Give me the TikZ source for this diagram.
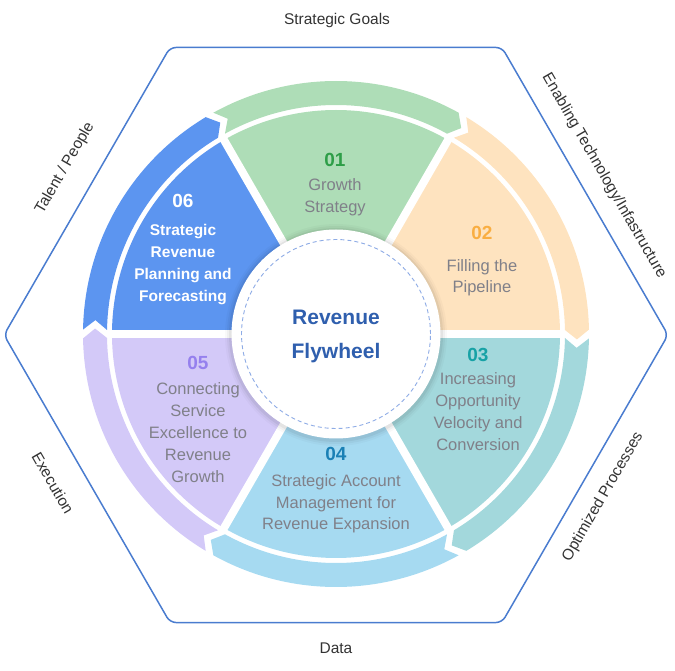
\documentclass[tikz,border=0pt]{standalone}
\usepackage{fontspec}
\setmainfont{Liberation Sans}
\usetikzlibrary{calc}
\definecolor{hexc}{HTML}{4A7CCF}
\definecolor{cA}{HTML}{AEDDB7}
\definecolor{cB}{HTML}{FEE3BF}
\definecolor{cC}{HTML}{A3D8DC}
\definecolor{cD}{HTML}{A6DAF1}
\definecolor{cE}{HTML}{D3C9F8}
\definecolor{cF}{HTML}{5C95F0}
\definecolor{nA}{HTML}{2E9E48}
\definecolor{nB}{HTML}{F9AE42}
\definecolor{nC}{HTML}{17A2A6}
\definecolor{nD}{HTML}{1A80B5}
\definecolor{nE}{HTML}{9580EE}
\definecolor{lblc}{HTML}{808089}
\definecolor{outc}{HTML}{333333}
\definecolor{hubc}{HTML}{2F5FAE}
\definecolor{dashc}{HTML}{8EACE6}
\tikzset{
  outlbl/.style={font=\fontsize{15.5}{18}\selectfont, text=outc, inner sep=0pt},
  numlbl/.style={font=\fontsize{19}{22}\selectfont\bfseries, anchor=base, inner sep=0pt},
  seclbl/.style={font=\fontsize{16.5}{22}\selectfont, text=lblc, anchor=base, inner sep=0pt},
  seclblw/.style={font=\fontsize{15.5}{22}\selectfont\bfseries, text=white, anchor=base, inner sep=0pt},
  hublbl/.style={font=\fontsize{21}{24}\selectfont\bfseries, text=hubc, anchor=base, inner sep=0pt},
}
\begin{document}
\begin{tikzpicture}[x=1pt,y=1pt]
\useasboundingbox (-336,-337) rectangle (339,334);
% hexagon frame
\draw[hexc, line width=1.5pt, rounded corners=6pt]
  ($(0:332)+(0,-1)$) -- ($(60:332)+(0,-1)$) -- ($(120:332)+(0,-1)$) -- ($(180:332)+(0,-1)$)
  -- ($(240:332)+(0,-1)$) -- ($(300:332)+(0,-1)$) -- cycle;
% sectors and arrow bands
\foreach \a/\c in {60/cA,0/cB,-60/cC,-120/cD,180/cE,120/cF} {
  \fill[\c] (0,0) -- (\a:224) arc[start angle=\a, end angle=\a+60, radius=224] -- cycle;
  \fill[\c] ({\a+59}:253) arc[start angle={\a+59}, end angle={\a+1}, radius=253]
     -- ({\a-1.3}:241) -- ({\a+1}:229)
     arc[start angle={\a+1}, end angle={\a+59}, radius=229]
     -- ({\a+56.7}:241) -- cycle;
}
\foreach \a in {0,60,...,300} \draw[white, line width=8pt] (0,0) -- (\a:226);
% hub
\foreach \r/\o in {111/0.025,109/0.035,107/0.05} \fill[black, opacity=\o] (0,-1) circle[radius=\r];
\node[circle, fill=white, minimum size=209pt, inner sep=0pt] (hub) at (0,0) {};
\draw[dashc, line width=0.9pt, dash pattern=on 4pt off 3pt] (hub.center) circle[radius=94.5];
\node[hublbl] (hubA) at (0,9) {Revenue};
\node[hublbl] (hubB) at (0,-25) {Flywheel};
% numbers
\node[numlbl, text=nA] (n1) at (-1,167) {01};
\node[numlbl, text=nB] (n2) at (146,94) {02};
\node[numlbl, text=nC] (n3) at (142,-28) {03};
\node[numlbl, text=nD] (n4) at (0,-127) {04};
\node[numlbl, text=nE] (n5) at (-138,-36) {05};
\node[numlbl, text=white] (n6) at (-153,126) {06};
% sector texts
\foreach \l [count=\i] in {Growth,Strategy}
  \node[seclbl] (sA\i) at (-1,{143-22*(\i-1)}) {\l};
\foreach \l [count=\i] in {Filling the,Pipeline}
  \node[seclbl] (sB\i) at (146,{62-21*(\i-1)}) {\l};
\foreach \l [count=\i] in {Increasing,Opportunity,Velocity and,Conversion}
  \node[seclbl] (sC\i) at (142,{-51-21.7*(\i-1)}) {\l};
\foreach \l [count=\i] in {Strategic Account,Management for,Revenue Expansion}
  \node[seclbl] (sD\i) at (0,{-153-21.5*(\i-1)}) {\l};
\foreach \l [count=\i] in {Connecting,Service,Excellence to,Revenue,Growth}
  \node[seclbl] (sE\i) at (-138,{-61-22*(\i-1)}) {\l};
\foreach \l [count=\i] in {Strategic,Revenue,Planning and,Forecasting}
  \node[seclblw] (sF\i) at (-153,{98-22*(\i-1)}) {\l};
% outer labels
\node[outlbl] (oTop) at (1,314) {Strategic Goals};
\node[outlbl] (oBot) at (0,-314) {Data};
\node[outlbl, rotate=60] (oTL) at (-271,166) {Talent / People};
\node[outlbl, rotate=-60] (oTR) at (268,158) {Enabling Technology/Infastructure};
\node[outlbl, rotate=-60] (oBL) at (-283,-149) {Execution};
\node[outlbl, rotate=60] (oBR) at (267,-163) {Optimized Processes};
\end{tikzpicture}
\end{document}
